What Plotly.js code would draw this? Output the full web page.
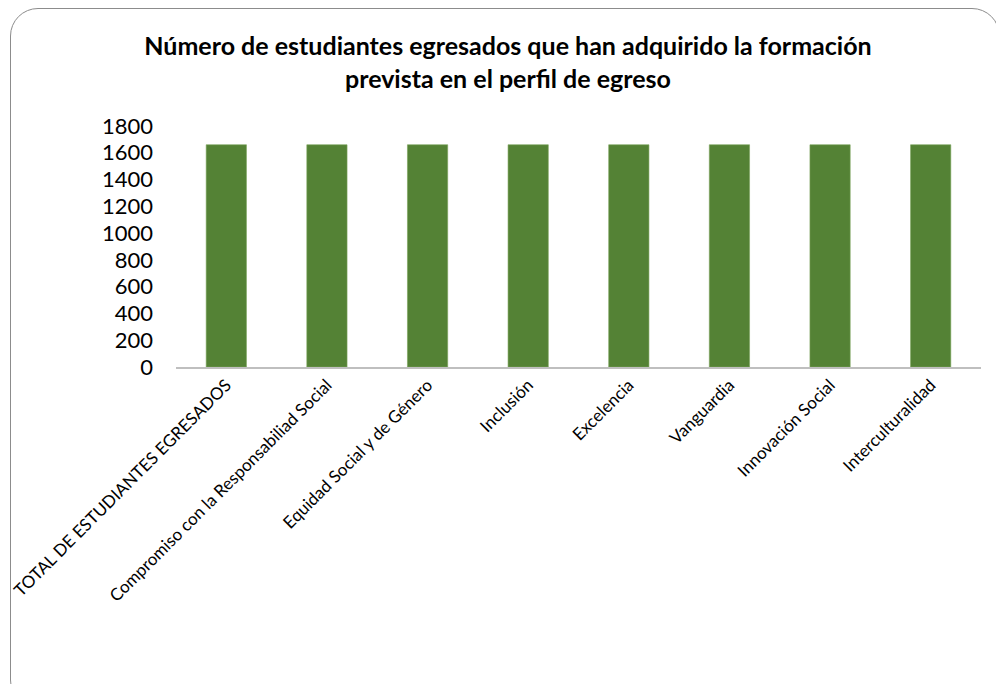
<!DOCTYPE html>
<html>
<head>
<meta charset="utf-8">
<script src="https://cdn.plot.ly/plotly-3.0.1.min.js"></script>
<style>
  html, body { margin: 0; padding: 0; background: #ffffff; }
  #wrap { position: relative; width: 996px; height: 684px; overflow: hidden; }
  #frame { position: absolute; left: 10px; top: 8px; width: 990px; height: 700px;
           border: 1px solid #8c8c8c; border-radius: 28px; box-sizing: border-box; pointer-events: none; }
  #chart { position: absolute; left: 0; top: 0; width: 996px; height: 684px; }
</style>
</head>
<body>
<div id="wrap">
  <div id="chart"></div>
  <div id="frame"></div>
</div>
<script>
const categories = [
  "TOTAL DE ESTUDIANTES EGRESADOS",
  "Compromiso con la Responsabiliad Social",
  "Equidad Social y de Género",
  "Inclusión",
  "Excelencia",
  "Vanguardia",
  "Innovación Social",
  "Interculturalidad"
];
const values = [1660, 1660, 1660, 1660, 1660, 1660, 1660, 1660];
const yTicks = [0, 200, 400, 600, 800, 1000, 1200, 1400, 1600, 1800];
const titleText = "Número de estudiantes egresados que han adquirido la formación<br>prevista en el perfil de egreso";

const trace = {
  type: "bar",
  x: categories,
  y: values,
  marker: { color: "#548235", line: { color: "#7aa35a", width: 0.6 } },
  hoverinfo: "x+y"
};

const layout = {
  width: 996,
  height: 684,
  margin: { l: 176, r: 15, t: 126, b: 317 },
  paper_bgcolor: "rgba(0,0,0,0)",
  plot_bgcolor: "rgba(0,0,0,0)",
  bargap: 0.6,
  showlegend: false,
  font: { family: "Lato, 'Open Sans', sans-serif", color: "#000000" },
  title: {
    text: "<b>" + titleText + "</b>",
    font: { family: "Lato, 'Open Sans', sans-serif", size: 25, color: "#000000" },
    x: 0.51, xref: "container", xanchor: "center",
    y: 1 - 55 / 684, yref: "container", yanchor: "middle"
  },
  xaxis: {
    type: "category",
    tickangle: -45,
    tickfont: { size: 17, color: "#000000" },
    showline: true, linecolor: "#bfbfbf", linewidth: 1.5,
    showgrid: false, ticks: "", zeroline: false
  },
  yaxis: {
    range: [0, 1800],
    tickvals: yTicks,
    ticktext: yTicks.map(String),
    tickfont: { size: 22, color: "#000000" },
    showline: false, showgrid: false, zeroline: false, ticks: "",
    ticklabelstandoff: 22
  }
};

Plotly.newPlot("chart", [trace], layout, { displayModeBar: false, staticPlot: true });
</script>
</body>
</html>
